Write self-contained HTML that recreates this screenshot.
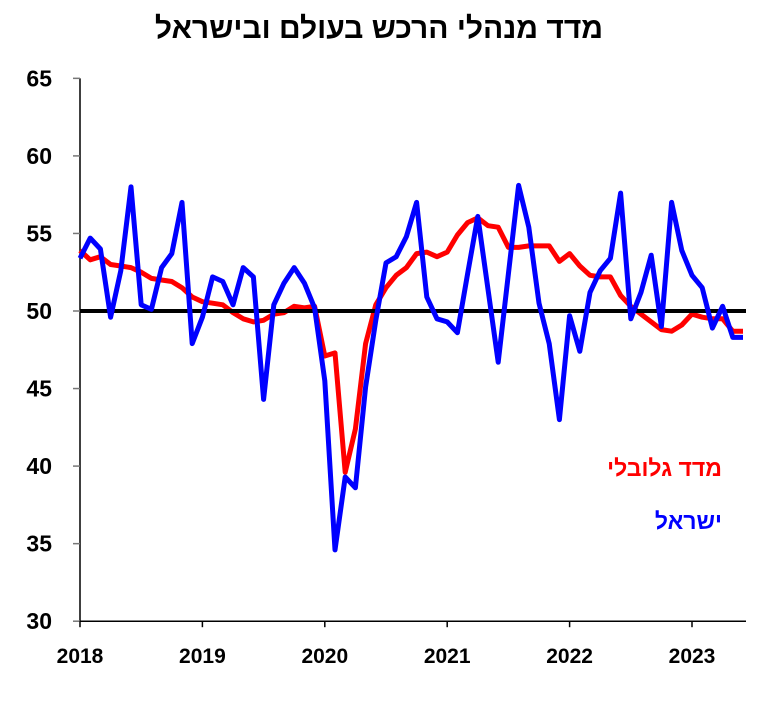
<!DOCTYPE html>
<html><head><meta charset="utf-8"><style>
body{margin:0;background:#fff;}
svg text{font-family:"Liberation Sans",sans-serif;font-weight:bold;}
</style></head><body>
<svg id="c" width="778" height="712">
<text x="379" y="38" font-size="30" text-anchor="middle">מדד מנהלי הרכש בעולם ובישראל</text>
<g id="axes"></g>
<g id="series"></g>
<text x="722" y="476" font-size="23" fill="#ff0000" text-anchor="end">מדד גלובלי</text>
<text x="722" y="529" font-size="23" fill="#0000ff" text-anchor="end">ישראל</text>
</svg>
<script>
const yTicks=[30,35,40,45,50,55,60,65];
const years=["2018","2019","2020","2021","2022","2023"];
const globalPMI=[53.9,53.3,53.5,53.0,52.9,52.8,52.5,52.1,52.0,51.9,51.5,50.9,
50.6,50.5,50.4,49.9,49.5,49.3,49.4,49.8,49.9,50.3,50.2,50.3,
47.1,47.3,39.6,42.4,47.9,50.4,51.5,52.3,52.8,53.7,53.8,53.5,
53.8,54.9,55.7,56.0,55.5,55.4,54.1,54.1,54.2,54.2,54.2,53.2,
53.7,52.9,52.3,52.2,52.2,51.0,50.3,49.8,49.3,48.8,48.7,49.1,
49.8,49.6,49.5,49.5,48.7,48.7];
const israelPMI=[53.4,54.7,54.0,49.6,52.6,58.0,50.4,50.1,52.8,53.7,57.0,47.9,
49.6,52.2,51.9,50.4,52.8,52.2,44.3,50.4,51.8,52.8,51.8,50.2,
45.5,34.6,39.3,38.6,45.1,49.4,53.1,53.5,54.8,57.0,50.9,49.5,
49.3,48.6,52.4,56.1,51.4,46.7,52.4,58.1,55.4,50.5,47.9,43.0,
49.7,47.4,51.2,52.6,53.4,57.6,49.5,51.2,53.6,49.0,57.0,53.9,
52.3,51.5,48.9,50.3,48.3,48.3];
const ref=50;
const NS="http://www.w3.org/2000/svg";
const x0=80,yr=122.4,mo=yr/12;
const X=i=>x0+i*mo;
const Y=v=>311-(v-50)*15.51;
const ax=document.getElementById('axes'),se=document.getElementById('series');
function mk(t,a,p){const e=document.createElementNS(NS,t);for(const k in a)e.setAttribute(k,a[k]);p.appendChild(e);return e;}
let e=mk('line',{x1:x0,y1:Y(65),x2:x0,y2:Y(30),stroke:'#000','stroke-width':1.5},ax);


e=mk('line',{x1:x0,y1:Y(30),x2:746,y2:Y(30),stroke:'#000','stroke-width':1.5},ax);


yTicks.forEach(v=>{
 const t=mk('line',{x1:x0-7,y1:Y(v),x2:x0,y2:Y(v),stroke:'#777','stroke-width':1.5},ax);
 
 
 const l=mk('text',{x:52,y:Y(v)+8,'font-size':23,'text-anchor':'end'},ax);
 l.textContent=v;
 
 
});
years.forEach((y,i)=>{
 const t=mk('line',{x1:X(i*12),y1:Y(30),x2:X(i*12),y2:Y(30)+6,stroke:'#000','stroke-width':1.5},ax);
 
 
 const l=mk('text',{x:X(i*12),y:663,'font-size':21,'text-anchor':'middle'},ax);
 l.textContent=y;
 
 
});
const pts=a=>a.map((v,i)=>X(i).toFixed(1)+','+Y(v).toFixed(1)).join(' ');
e=mk('polyline',{points:pts(globalPMI),fill:'none',stroke:'#ff0000','stroke-width':5,'stroke-linejoin':'round'},se);


e=mk('line',{x1:x0,y1:Y(ref),x2:746,y2:Y(ref),stroke:'#000','stroke-width':4},se);


e=mk('polyline',{points:pts(israelPMI),fill:'none',stroke:'#0000ff','stroke-width':5,'stroke-linejoin':'round'},se);


</script>
</body></html>
